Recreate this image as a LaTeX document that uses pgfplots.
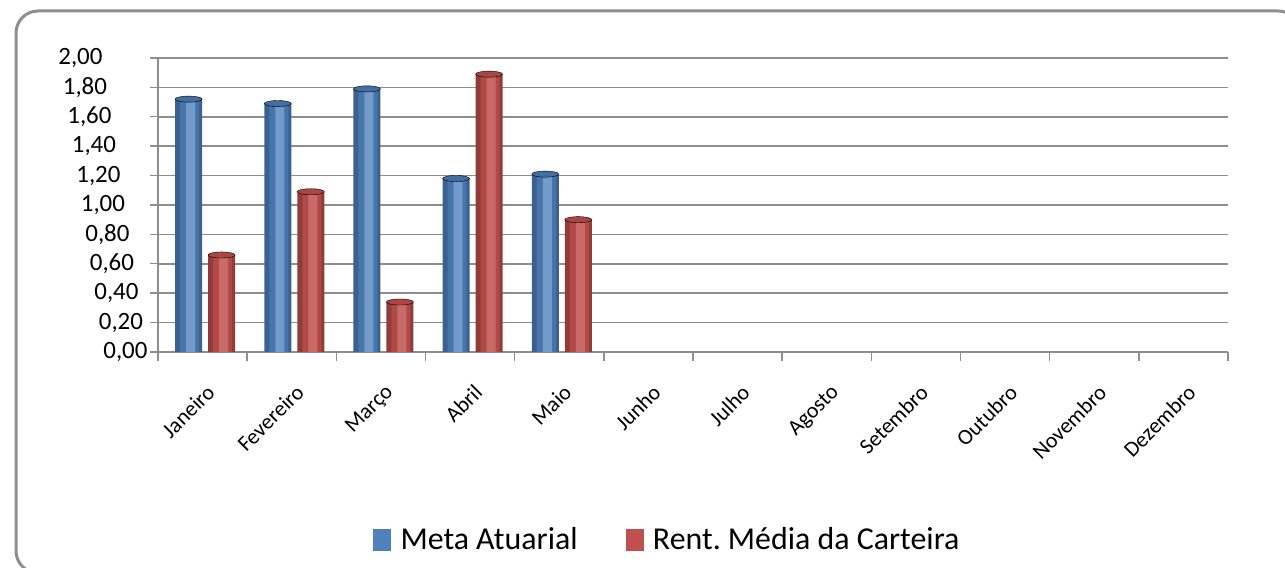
\documentclass[border=0pt]{standalone}
\usepackage{pgfplots}
\pgfplotsset{compat=1.18}
\usepackage{fontspec}
\setmainfont{Carlito}
\frenchspacing
\definecolor{meta}{HTML}{4F81BD}
\definecolor{rent}{HTML}{C0504D}
\definecolor{gridc}{HTML}{8E8E8E}
\pgfplotstableread{
x meta rent
1 1.72 0.66
2 1.69 1.09
3 1.79 0.34
4 1.18 1.89
5 1.21 0.90
}\datatab
\begin{document}
\begin{tikzpicture}[x=1bp,y=1bp]
\useasboundingbox (0,0) rectangle (1285,568);
\draw[gridc, line width=3bp, rounded corners=22bp] (16,-5) rectangle (1300,557);
\begin{axis}[
  at={(158bp,216bp)}, anchor=south west,
  scale only axis, width=1070bp, height=294bp,
  xmin=0.5, xmax=12.5, ymin=0, ymax=2,
  ytick={0,0.2,0.4,0.6,0.8,1.0,1.2,1.4,1.6,1.8,2.0},
  ymajorgrids, grid style={gridc, line width=1.6bp},
  axis x line*=bottom, axis y line*=left,
  axis line style={gridc, line width=1.6bp},
  xtick={1,...,12},
  xticklabels={Janeiro,Fevereiro,Março,Abril,Maio,Junho,Julho,Agosto,Setembro,Outubro,Novembro,Dezembro},
  major x tick style={draw=none},
  minor xtick={0.5,1.5,...,12.5},
  tick style={gridc, line width=1.4bp},
  tick align=outside, major tick length=8bp, minor tick length=9bp,
  x tick label style={rotate=45, anchor=north east, font=\fontsize{22}{26}\selectfont, inner sep=0bp, xshift=4bp},
  xticklabel shift=26bp,
  yticklabel={\pgfmathprintnumber{\tick}\hspace*{\dimexpr 4.5bp*\ticknum\relax}},
  y tick label style={font=\fontsize{25}{28}\selectfont, xshift=1bp, /pgf/number format/.cd, use comma, fixed, fixed zerofill, precision=2, assume math mode=true},
  legend style={at={(0.476,-0.638)}, anchor=center, draw=none, fill=none, legend columns=2,
    font=\fontsize{32}{36}\selectfont,
    /tikz/every odd column/.append style={column sep=8bp},
    /tikz/every even column/.append style={column sep=46bp}},
]
% Meta Atuarial: layered bars giving a cylinder look
\addplot[ybar, bar width=27bp, bar shift=-14bp, fill=meta!75!black, draw=none, forget plot] table[x=x,y=meta]{\datatab};
\addplot[ybar, bar width=19bp, bar shift=-13bp, fill=meta!90!black, draw=none, forget plot] table[x=x,y=meta]{\datatab};
\addplot[ybar, bar width=9bp, bar shift=-12bp, fill=meta!80!white, draw=none, forget plot] table[x=x,y=meta]{\datatab};
\addplot[only marks, mark=*, mark size=6.75bp, forget plot,
  mark options={draw=none, fill=meta!85!black, xshift=-14bp, xscale=2, yscale=0.45}] table[x=x,y=meta]{\datatab};
% Rent. Media da Carteira
\addplot[ybar, bar width=27bp, bar shift=19bp, fill=rent!75!black, draw=none, forget plot] table[x=x,y=rent]{\datatab};
\addplot[ybar, bar width=19bp, bar shift=20bp, fill=rent!92!black, draw=none, forget plot] table[x=x,y=rent]{\datatab};
\addplot[ybar, bar width=9bp, bar shift=21bp, fill=rent!85!white, draw=none, forget plot] table[x=x,y=rent]{\datatab};
\addplot[only marks, mark=*, mark size=6.75bp, forget plot,
  mark options={draw=none, fill=rent!88!black, xshift=19bp, xscale=2, yscale=0.45}] table[x=x,y=rent]{\datatab};
\addlegendimage{legend image code/.code={\fill[meta] (0bp,-11bp) rectangle (17bp,10bp);}}
\addlegendentry{Meta Atuarial}
\addlegendimage{legend image code/.code={\fill[rent] (0bp,-11bp) rectangle (17bp,10bp);}}
\addlegendentry{Rent. Média da Carteira}
\end{axis}
\end{tikzpicture}
\end{document}
